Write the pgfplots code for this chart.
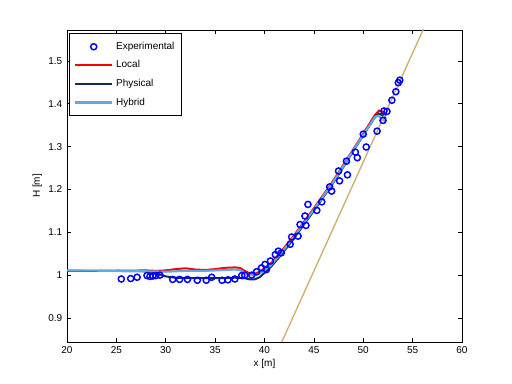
\documentclass[border=0pt]{standalone}
\usepackage{pgfplots}
\pgfplotsset{compat=1.18}
\usepackage{fontspec}
\setmainfont{Liberation Sans}
\definecolor{localred}{RGB}{255,0,0}
\definecolor{physnavy}{RGB}{22,42,88}
\definecolor{hybblue}{RGB}{95,170,225}
\definecolor{beach}{RGB}{205,175,110}
\definecolor{expblue}{RGB}{0,0,255}
\pgfplotsset{
    lineleg/.style={legend image code/.code={\draw[##1] (0pt,0pt) -- (28pt,0pt);}},
    markleg/.style={legend image code/.code={\draw[##1] plot coordinates {(14pt,0pt)};}},
}
\begin{document}
\begin{tikzpicture}
\path (0,0) rectangle (384pt,288pt);
\begin{axis}[
    at={(50.25pt,31.5pt)},
    anchor=south west,
    scale only axis,
    width=296.25pt,
    height=234pt,
    xmin=20, xmax=60,
    ymin=0.844, ymax=1.572,
    xtick={20,25,...,60},
    ytick={0.9,1,1.1,1.2,1.3,1.4,1.5},
    yticklabels={0.9,1,1.1,1.2,1.3,1.4,1.5},
    tick align=inside,
    major tick length=3pt,
    tick style={black, line width=0.5pt},
    axis line style={line width=0.6pt},
    font=\fontsize{7.5}{9}\selectfont,
    tick label style={font=\fontsize{7.5}{9}\selectfont},
    /pgf/number format/assume math mode=true,
    xlabel={x [m]},
    ylabel={H [m]},
    xlabel style={yshift=3pt},
    ylabel style={yshift=-2pt},
    legend style={
        at={(0.005,0.99)},
        anchor=north west,
        draw=black,
        fill=white,
        font=\fontsize{7.5}{9}\selectfont,
        row sep=3pt,
        inner xsep=3.5pt,
        inner ysep=4.5pt,
        line width=0.5pt,
    },
    legend cell align={left},
    clip=true,
]

\addplot[only marks, mark=o, mark size=2.3pt, draw=expblue, line width=1.1pt, markleg]
coordinates {
    (25.5,0.991) (26.45,0.992) (27.1,0.995) (28.1,0.999) (28.4,0.997)
    (28.7,0.998) (29.0,0.999) (29.4,1.000) (30.7,0.990) (31.4,0.990)
    (32.2,0.990) (33.2,0.988) (34.1,0.988) (34.65,0.995) (35.7,0.988)
    (36.3,0.989) (37.0,0.991) (37.7,0.999) (38.0,1.000) (38.7,1.000)
    (39.2,1.008) (39.7,1.017) (40.05,1.025) (40.2,1.013) (40.6,1.033)
    (41.1,1.048) (41.4,1.056) (41.7,1.052) (42.6,1.072) (42.75,1.089)
    (43.4,1.091) (43.6,1.118) (44.1,1.138) (44.2,1.116) (44.4,1.165)
    (45.3,1.151) (45.8,1.171) (46.6,1.206) (46.8,1.196) (47.5,1.243)
    (47.6,1.220) (48.3,1.266) (48.4,1.234) (49.2,1.287) (49.4,1.274)
    (50.0,1.329) (50.3,1.299) (51.4,1.336) (52.0,1.361) (52.1,1.383)
    (52.4,1.382) (52.9,1.408) (53.3,1.428) (53.55,1.449) (53.7,1.455)
};
\addlegendentry{Experimental\hspace{15pt}}

\addplot[localred, line width=1.5pt, lineleg]
coordinates {
    (20,1.010) (24,1.010) (28,1.011) (29,1.010) (30,1.011) (31,1.014)
    (32,1.016) (33,1.013) (34,1.012) (35,1.014) (36,1.017) (37,1.018)
    (37.5,1.017) (38,1.010) (38.5,1.004) (39,1.003) (39.5,1.008)
    (40,1.016) (40.6,1.026) (41.5,1.050) (42.9,1.090) (44.9,1.153)
    (46.6,1.208) (47.6,1.243) (48.7,1.283) (50,1.330) (51.2,1.374)
    (51.6,1.384) (52,1.381) (52.3,1.372)
};
\addlegendentry{Local}

\addplot[physnavy, line width=1.5pt, lineleg]
coordinates {
    (20,1.010) (24,1.010) (28,1.009) (29,1.005) (30,0.997) (31,0.994)
    (32,0.993) (34,0.993) (36,0.993) (37,0.994) (38,0.993) (38.5,0.990)
    (39,0.990) (39.5,0.995) (40,1.005) (40.6,1.018) (41.5,1.042)
    (42.9,1.083) (44.9,1.147) (46.6,1.203) (47.6,1.238) (48.7,1.279)
    (50,1.326) (51.2,1.369) (51.6,1.377) (52,1.372) (52.3,1.365)
};
\addlegendentry{Physical}

\addplot[hybblue, line width=1.6pt, lineleg]
coordinates {
    (20,1.011) (25,1.010) (28,1.009) (30,1.008) (32,1.010) (34,1.010)
    (36,1.012) (37,1.013) (37.5,1.012) (38,1.006) (38.5,1.000)
    (39,0.999) (39.5,1.004) (40,1.012) (40.6,1.022) (41.5,1.046)
    (42.9,1.087) (44.9,1.150) (46.6,1.205) (47.6,1.240) (48.7,1.281)
    (50,1.327) (51.2,1.369) (51.5,1.372) (52,1.363) (52.3,1.358)
};
\addlegendentry{Hybrid}

\addplot[beach, line width=1pt, forget plot] coordinates {
    (40,0.755) (58,1.671)
};

\end{axis}
\end{tikzpicture}
\end{document}
